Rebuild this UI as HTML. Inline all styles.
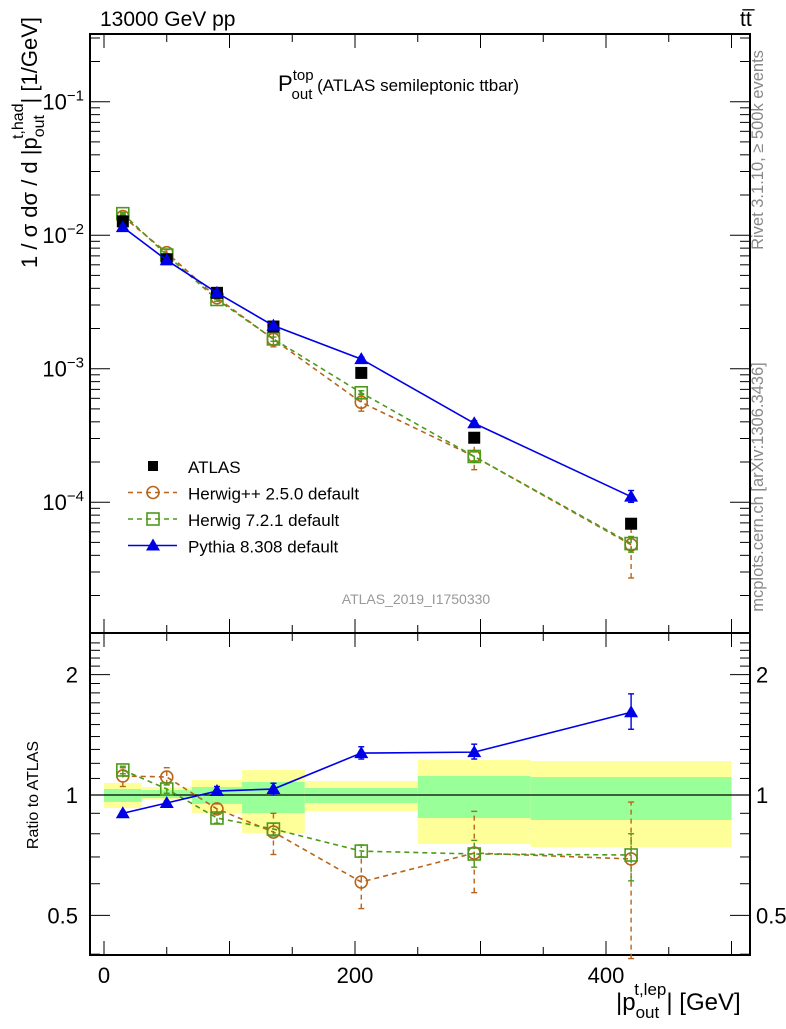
<!DOCTYPE html>
<html><head><meta charset="utf-8"><style>
body{margin:0;background:#fff;width:786px;height:1024px;overflow:hidden;font-family:"Liberation Sans",sans-serif}
svg text{font-family:"Liberation Sans",sans-serif}
</style></head><body>
<svg id="c" width="786" height="1024" xmlns="http://www.w3.org/2000/svg"></svg>
<script>
const xs=[15,50,90,135,205,295,420];
const binEdges=[0,30,70,110,160,250,340,500];
const atlas=[1.27e-2,6.6e-3,3.7e-3,2.07e-3,9.3e-4,3.04e-4,6.9e-5];
const herwigpp=[1.38e-2,7.4e-3,3.4e-3,1.66e-3,5.6e-4,2.2e-4,4.8e-5];
const herwig7=[1.45e-2,7.1e-3,3.3e-3,1.67e-3,6.6e-4,2.2e-4,4.9e-5];
const pythia=[1.15e-2,6.5e-3,3.7e-3,2.1e-3,1.18e-3,3.9e-4,1.1e-4];
const rHpp=[1.116,1.109,0.923,0.808,0.606,0.716,0.692];
const rHppLo=[1.05,1.06,0.90,0.71,0.52,0.57,0.39];
const rHppHi=[1.17,1.17,0.95,0.90,0.70,0.91,0.96];
const rH7=[1.155,1.035,0.876,0.822,0.724,0.712,0.708];
const rH7Lo=[1.13,1.01,0.85,0.79,0.70,0.66,0.61];
const rH7Hi=[1.18,1.06,0.90,0.85,0.75,0.77,0.80];
const rPy=[0.90,0.955,1.023,1.035,1.273,1.28,1.61];
const rPyLo=[0.89,0.945,1.0,1.0,1.23,1.23,1.46];
const rPyHi=[0.91,0.965,1.05,1.07,1.32,1.34,1.79];
const yelLo=[0.928,0.972,0.901,0.803,0.912,0.754,0.741];
const yelHi=[1.072,1.047,1.090,1.155,1.084,1.223,1.216];
const grnLo=[0.961,0.983,0.950,0.901,0.955,0.876,0.866];
const grnHi=[1.035,1.029,1.047,1.078,1.041,1.116,1.109];
const xTicks=[0,200,400];
const yMainTicks=[-1,-2,-3,-4];
const rTicks=[0.5,1,2];

const L=90,R=750,T=34,MB=633,B=955;
const X=v=>104+v*1.255;
const Y=v=>235.2-(Math.log10(v)+2)*133.5;
const RY=v=>795-Math.log10(v)*400;
const NS='http://www.w3.org/2000/svg';
const svg=document.getElementById('c');
function el(t,a,p){const e=document.createElementNS(NS,t);for(const k in a)e.setAttribute(k,a[k]);(p||svg).appendChild(e);return e;}
function txt(x,y,s,a){const e=el('text',Object.assign({x:x,y:y},a||{}));e.textContent=s;return e;}

for(let i=0;i<yelLo.length;i++){
 const r=el('rect',{x:X(binEdges[i]),y:RY(yelHi[i]),width:X(binEdges[i+1])-X(binEdges[i]),height:RY(yelLo[i])-RY(yelHi[i]),fill:'#ffff99'});
 
 
 const g=el('rect',{x:X(binEdges[i]),y:RY(grnHi[i]),width:X(binEdges[i+1])-X(binEdges[i]),height:RY(grnLo[i])-RY(grnHi[i]),fill:'#99ff99'});
 
 
}
el('line',{x1:L,x2:R,y1:RY(1),y2:RY(1),stroke:'#000','stroke-width':1.2});

el('rect',{x:L,y:T,width:R-L,height:MB-T,fill:'none',stroke:'#000','stroke-width':2});
el('rect',{x:L,y:MB,width:R-L,height:B-MB,fill:'none',stroke:'#000','stroke-width':2});

for(let v=0;v<=500;v+=50){
 const big=v%100==0;
 [[T,1],[MB,-1],[MB,1],[B,-1]].forEach(([y0,d])=>el('line',{x1:X(v),x2:X(v),y1:y0,y2:y0+d*(big?14:8),stroke:'#000','stroke-width':1}));
}
xTicks.forEach(v=>{const t=txt(X(v),983,v,{'font-size':22,'text-anchor':'middle'});});

for(let d=-5;d<=-1;d++){for(let m=1;m<10;m++){const v=m*Math.pow(10,d);const y=Y(v);if(y<T||y>MB)continue;const w=m==1?20:10;
 el('line',{x1:L,x2:L+w,y1:y,y2:y,stroke:'#000'});el('line',{x1:R,x2:R-w,y1:y,y2:y,stroke:'#000'});}}
yMainTicks.forEach(p=>{const t=el('text',{x:84,y:Y(Math.pow(10,p))+8,'font-size':22,'text-anchor':'end'});
 t.innerHTML='10<tspan dy="-9" font-size="15">\u2212'+(-p)+'</tspan>';});

for(let v=0.4;v<=2.5;v+=0.1){const y=RY(v);if(y<MB||y>B)continue;const big=Math.abs(v-0.5)<1e-6||Math.abs(v-1)<1e-6||Math.abs(v-2)<1e-6;
 el('line',{x1:L,x2:L+(big?20:10),y1:y,y2:y,stroke:'#000'});el('line',{x1:R,x2:R-(big?20:10),y1:y,y2:y,stroke:'#000'});}
rTicks.forEach(v=>{const a=txt(78,RY(v)+8,v,{'font-size':22,'text-anchor':'end'});
 const b=txt(756,RY(v)+8,v,{'font-size':22});});

function marker(kind,x,y,col){
 if(kind=='sq'){return el('rect',{x:x-6,y:y-6,width:12,height:12,fill:'#fff','fill-opacity':0,stroke:col,'stroke-width':1.6});}
 if(kind=='ci'){return el('circle',{cx:x,cy:y,r:6,fill:'none',stroke:col,'stroke-width':1.6});}
 if(kind=='tri'){return el('polygon',{points:`${x},${y-7} ${x-7},${y+5} ${x+7},${y+5}`,fill:col});}
 if(kind=='bsq'){return el('rect',{x:x-6,y:y-6,width:12,height:12,fill:col});}
}
function series(name,vals,rv,lo,hi,col,kind,dash){
 const pts=xs.map((x,i)=>X(x)+','+Y(vals[i])).join(' ');
 const l=el('polyline',{points:pts,fill:'none',stroke:col,'stroke-width':1.6,'stroke-dasharray':dash});
 
 
 const rl=el('polyline',{points:xs.map((x,i)=>X(x)+','+RY(rv[i])).join(' '),fill:'none',stroke:col,'stroke-width':1.6,'stroke-dasharray':dash});
 
 
 xs.forEach((x,i)=>{
  const f=vals[i]/rv[i];
  [[Y(lo[i]*f),Y(hi[i]*f)],[RY(lo[i]),RY(hi[i])]].forEach(([a,b])=>{
   el('line',{x1:X(x),x2:X(x),y1:a,y2:b,stroke:col,'stroke-width':1.4,'stroke-dasharray':dash});
   el('line',{x1:X(x)-3,x2:X(x)+3,y1:a,y2:a,stroke:col,'stroke-width':1.4});
   el('line',{x1:X(x)-3,x2:X(x)+3,y1:b,y2:b,stroke:col,'stroke-width':1.4});
  });
  const m=marker(kind,X(x),Y(vals[i]),col);
  
  
  const m2=marker(kind,X(x),RY(rv[i]),col);
  
  
 });
}
series('herwigpp',herwigpp,rHpp,rHppLo,rHppHi,'#b8651b','ci','5,4');
series('herwig7',herwig7,rH7,rH7Lo,rH7Hi,'#4c9a1a','sq','5,4');
xs.forEach((x,i)=>{const m=marker('bsq',X(x),Y(atlas[i]),'#000');});
series('pythia',pythia,rPy,rPyLo,rPyHi,'#0000e6','tri','none');

const lg=[['ATLAS','bsq','#000',null],['Herwig++ 2.5.0 default','ci','#b8651b','5,4'],['Herwig 7.2.1 default','sq','#4c9a1a','5,4'],['Pythia 8.308 default','tri','#0000e6','none']];
lg.forEach((e,i)=>{const y=466+i*26.5;
 if(e[3]){el('line',{x1:128,x2:177,y1:y,y2:y,stroke:e[2],'stroke-width':1.6,'stroke-dasharray':e[3]});}
 const m=marker(e[1],153,y,e[2]);if(e[1]=='bsq'){m.setAttribute('x',148);m.setAttribute('y',461);m.setAttribute('width',10);m.setAttribute('height',10);}
 
 
 const t=txt(188,y+7,e[0],{'font-size':17});
 
 
});

let t=txt(100,26,'13000 GeV pp',{'font-size':21});
t=el('text',{x:740,y:26,'font-size':21});t.textContent='tt\u0305';
t=el('text',{x:278,y:91,'font-size':22});t.innerHTML='P<tspan font-size="15" dy="-11">top</tspan><tspan font-size="15" dx="-22" dy="19">out</tspan><tspan font-size="17" dy="-8"> (ATLAS semileptonic ttbar)</tspan>';
t=txt(416,604,'ATLAS_2019_I1750330',{'font-size':14,fill:'#999','text-anchor':'middle'});
t=el('text',{transform:'translate(37,0) rotate(-90)','font-size':22});
t.innerHTML='<tspan x="-268">1 / σ dσ / d |p</tspan><tspan font-size="16" dy="7">out</tspan><tspan font-size="16" dx="-24" dy="-21">t,had</tspan><tspan dy="14">| [1/GeV]</tspan>';

t=txt(0,0,'Ratio to ATLAS',{transform:'translate(38,795) rotate(-90)','font-size':16,'text-anchor':'middle'});
t=el('text',{x:616,y:1010,'font-size':24});t.innerHTML='|p<tspan font-size="17" dy="8">out</tspan><tspan font-size="17" dx="-25" dy="-23">t,lep</tspan><tspan dy="15">| [GeV]</tspan>';
t=txt(0,0,'Rivet 3.1.10, ≥ 500k events',{transform:'translate(763,150) rotate(-90)','font-size':16.5,fill:'#888','text-anchor':'middle'});
t=txt(0,0,'mcplots.cern.ch [arXiv:1306.3436]',{transform:'translate(763,487) rotate(-90)','font-size':16.5,fill:'#888','text-anchor':'middle'});
</script>
</body></html>
